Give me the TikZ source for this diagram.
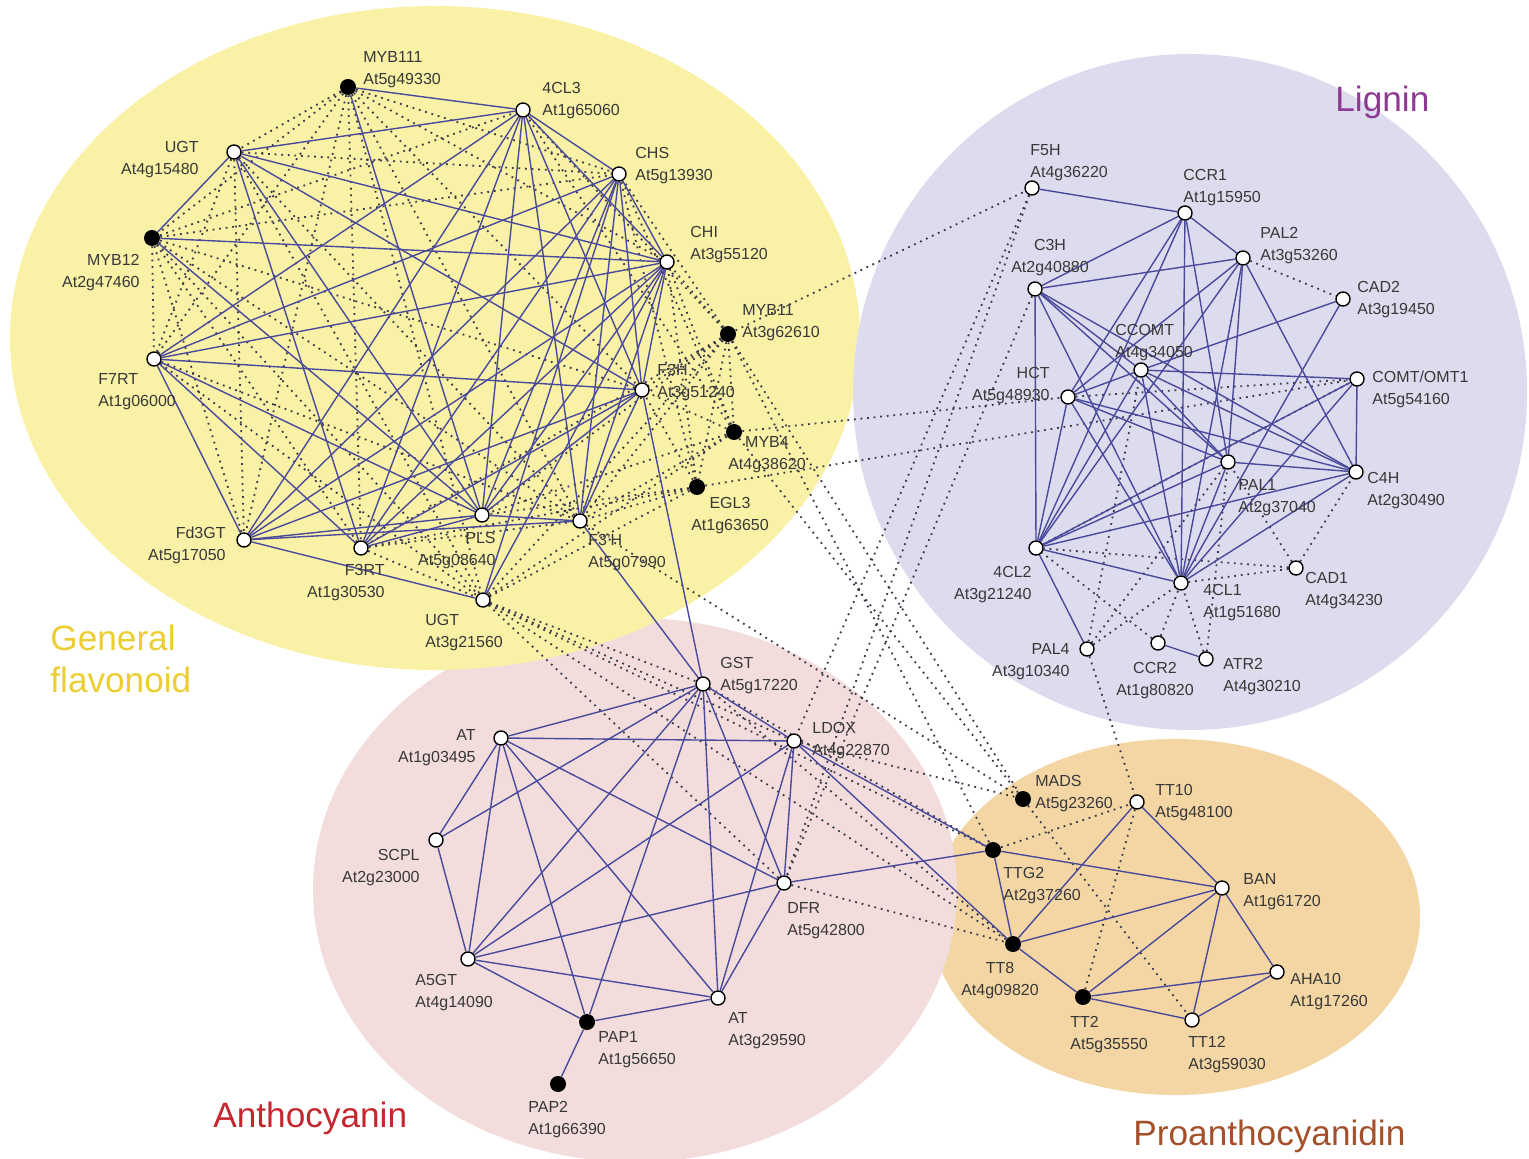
\documentclass[tikz,border=0pt]{standalone}
\usepackage{fontspec}
\setmainfont{Liberation Sans}
\definecolor{flavfill}{HTML}{F9F1A6}
\definecolor{ligfill}{HTML}{DDDCEE}
\definecolor{anthfill}{HTML}{F2DDDC}
\definecolor{proafill}{HTML}{F3D6A4}
\definecolor{edgeblue}{HTML}{4A4A9C}
\definecolor{dotgrey}{HTML}{3A3A48}
\definecolor{flavtext}{HTML}{ECCE32}
\definecolor{ligtext}{HTML}{8E3A92}
\definecolor{anthtext}{HTML}{C6262E}
\definecolor{proatext}{HTML}{A4502A}
\pgfdeclarelayer{bg}
\pgfsetlayers{bg,main}

\begin{document}
\begin{tikzpicture}[x=0.5pt,y=-0.5pt]
  \tikzstyle{gene}=[circle,draw,fill=white,line width=0.7pt,minimum size=7pt,inner sep=0pt]
  \tikzstyle{tf}=[circle,fill=black,minimum size=8pt,inner sep=0pt]
  \tikzstyle{lbl}=[font=\fontsize{8}{11}\selectfont,text=black!78,inner sep=0pt]
  \tikzstyle{group}=[font=\fontsize{17.6}{21}\selectfont,inner sep=0pt,anchor=north west,align=left]
  \tikzstyle{coexp}=[draw=edgeblue,line width=0.7pt]
  \tikzstyle{weak}=[draw=dotgrey,line width=0.9pt,dash pattern=on 0.9pt off 2.4pt]

  \useasboundingbox (0,0) rectangle (1529,1159);

  % genes
  \foreach \name/\x/\y in {c43/523/110, u1/234/152, chs/619/174, chi/667/262, f7/154/359,
      f3h/642/390, fd/244/540, pls/482/515, f3p/580/521, f3r/361/548, u2/483/600,
      f5h/1032/188, ccr1/1185/213, pal2/1243/258, c3h/1035/289, cad2/1343/299,
      ccomt/1141/370, comt/1357/379, hct/1068/397, pal1/1228/462, c4h/1356/472,
      cl42/1036/548, cl41/1181/583, cad1/1296/568, pal4/1087/649, ccr2/1158/643, atr2/1206/659,
      gst/703/684, at1/501/738, ldox/794/741, scpl/436/840, dfr/784/883, a5gt/468/959, at2/718/998,
      tt10/1137/802, ban/1222/888, aha10/1277/972, tt12/1192/1020}
    \node[gene] (\name) at (\x,\y) {};

  % transcription factors
  \foreach \name/\x/\y in {m111/348/87, m12/152/238, m11/728/334, m4/734/432, e3/697/487,
      pap1/587/1022, pap2/558/1084, mads/1023/799, ttg2/993/850, tt8/1013/944, tt2/1083/997}
    \node[tf] (\name) at (\x,\y) {};

  % labels
  \foreach \name/\x/\y/\txt in {m111/363/51/{MYB111\\At5g49330}, c43/542/82/{4CL3\\At1g65060},
      chs/635/147/{CHS\\At5g13930}, chi/690/226/{CHI\\At3g55120}, m11/742/304/{MYB11\\At3g62610},
      f7/98/373/{F7RT\\At1g06000}, f3h/657/364/{F3H\\At3g51240}, f3p/588/534/{F3'H\\At5g07990},
      u2/425/614/{UGT\\At3g21560}, f5h/1030/144/{F5H\\At4g36220}, ccr1/1183/169/{CCR1\\At1g15950},
      pal2/1260/227/{PAL2\\At3g53260}, cad2/1357/281/{CAD2\\At3g19450}, ccomt/1115/324/{CCOMT\\At4g34050},
      comt/1372/371/{COMT/OMT1\\At5g54160}, pal1/1238/479/{PAL1\\At2g37040}, c4h/1367/472/{C4H\\At2g30490},
      cl41/1203/584/{4CL1\\At1g51680}, cad1/1305/572/{CAD1\\At4g34230}, atr2/1223/658/{ATR2\\At4g30210},
      gst/720/657/{GST\\At5g17220}, ldox/812/722/{LDOX\\At4g22870}, dfr/787/902/{DFR\\At5g42800},
      a5gt/415/974/{A5GT\\At4g14090}, pap1/598/1031/{PAP1\\At1g56650}, at2/728/1012/{AT\\At3g29590},
      pap2/528/1101/{PAP2\\At1g66390}, mads/1035/775/{MADS\\At5g23260}, tt10/1155/784/{TT10\\At5g48100},
      ttg2/1003/867/{TTG2\\At2g37260}, ban/1243/873/{BAN\\At1g61720}, aha10/1290/973/{AHA10\\At1g17260},
      tt2/1070/1016/{TT2\\At5g35550}, tt12/1188/1036/{TT12\\At3g59030}}
    \node[lbl,anchor=north west,align=left] (\name-l) at (\x,\y) {\txt};

  \foreach \name/\x/\y/\txt in {u1/199/141/{UGT\\At4g15480}, m12/140/254/{MYB12\\At2g47460},
      fd/226/527/{Fd3GT\\At5g17050}, pls/496/532/{PLS\\At5g08640}, f3r/385/564/{F3RT\\At1g30530},
      hct/1050/367/{HCT\\At5g48930}, cl42/1032/566/{4CL2\\At3g21240}, pal4/1070/643/{PAL4\\At3g10340},
      at1/476/729/{AT\\At1g03495}, scpl/420/849/{SCPL\\At2g23000}}
    \node[lbl,anchor=north east,align=right] (\name-l) at (\x,\y) {\txt};

  \foreach \name/\x/\y/\txt in {m4/767/436/{MYB4\\At4g38620}, e3/730/497/{EGL3\\At1g63650},
      c3h/1050/239/{C3H\\At2g40880}, ccr2/1155/662/{CCR2\\At1g80820}, tt8/1000/962/{TT8\\At4g09820}}
    \node[lbl,anchor=north,align=center] (\name-l) at (\x,\y) {\txt};

  \node[group,text=flavtext] (flav-t) at (50,625) {General\\flavonoid};
  \node[group,text=ligtext] (lig-t) at (1335,86) {Lignin};
  \node[group,text=anthtext] (anth-t) at (213,1102) {Anthocyanin};
  \node[group,text=proatext] (proa-t) at (1133,1120) {Proanthocyanidin};

  \begin{pgfonlayer}{bg}
    \fill[proafill] (1175,917) ellipse [x radius=122.5pt, y radius=89pt];
    \fill[anthfill] (635,890) ellipse [x radius=161pt, y radius=136pt];
    \fill[flavfill] (435,338) ellipse [x radius=212.5pt, y radius=166pt];
    \fill[ligfill] (1190,392) ellipse [x radius=168.5pt, y radius=169pt];

    % weak links
    \foreach \a/\b in {m111/u1, m111/m12, m111/chs, m111/chi, m111/f7, m111/f3h, m111/f3r, m111/f3p, m111/fd, m111/u2,
        m12/c43, m12/chs, m12/f7, m12/f3h, m12/f3r, m12/fd, m12/f3p, m12/u2,
        m11/c43, m11/chs, m11/chi, m11/f3h, m11/pls, m11/f3p, m11/f3r, m11/u2, m11/m4, m11/e3,
        m4/chi, m4/chs, m4/f3h, m4/pls, m4/f3p, m4/u2, m4/c43,
        e3/chi, e3/chs, e3/f3h, e3/pls, e3/f3p, e3/u2, e3/f3r,
        u1/chs, u1/f7, u1/fd, u1/f3p, u1/u2, f7/f3p, f7/u2, f3r/f3p, f3r/u2,
        m11/f5h, m11/mads, m11/ttg2, f5h/ldox, f5h/dfr, c3h/dfr, m4/hct, e3/comt,
        f3p/mads, m4/mads, u2/gst, u2/ldox, u2/dfr, u2/ttg2, u2/tt8,
        gst/ttg2, gst/tt8, ldox/mads, dfr/tt8, pal4/tt10,
        pal2/cad2, hct/comt, cad1/cl42, cad1/cl41, cad1/pal1, cad1/c4h, ccr2/cl42, ccr2/cl41,
        atr2/cl41, atr2/pal1, pal4/cl41, pal4/pal1, pal4/ccomt, cl42/comt,
        mads/tt12, ttg2/tt10, tt10/tt2}
      \draw[weak] (\a) -- (\b);

    % coexpression links
    \foreach \a/\b in {m111/c43, m111/pls,
        u1/c43, u1/m12, u1/chi, u1/f3h, u1/pls, u1/f3r,
        m12/chi, m12/pls,
        c43/chs, c43/chi, c43/f7, c43/fd, c43/f3r, c43/pls, c43/f3p, c43/f3h,
        chs/chi, chs/f7, chs/fd, chs/f3r, chs/pls, chs/f3p, chs/u2, chs/f3h,
        chi/f7, chi/fd, chi/f3r, chi/pls, chi/f3p, chi/u2, chi/f3h,
        f3h/f7, f3h/fd, f3h/f3r, f3h/pls, f3h/f3p, f3h/gst,
        f7/fd, f7/f3r, f7/pls, fd/pls, fd/u2, fd/f3p, pls/f3p, pls/f3r, f3p/gst,
        f5h/ccr1, ccr1/pal2, ccr1/c3h, ccr1/hct, ccr1/cl42, ccr1/cl41, ccr1/pal1,
        pal2/c3h, pal2/hct, pal2/cl42, pal2/cl41, pal2/c4h, pal2/pal1,
        c3h/cl42, c3h/pal1, c3h/c4h, c3h/cl41, c3h/ccomt,
        cad2/ccomt, cad2/cl41,
        ccomt/hct, ccomt/comt, ccomt/c4h, ccomt/pal1, ccomt/cl42, ccomt/cl41,
        comt/c4h, comt/cl41, comt/cl42,
        hct/pal1, hct/c4h, hct/cl41, hct/cl42,
        pal1/c4h, pal1/cl42, pal1/cl41, c4h/cl42, c4h/cl41,
        cl42/cl41, cl42/pal4, ccr2/atr2,
        at1/gst, at1/ldox, at1/scpl, at1/a5gt, at1/pap1, at1/at2, at1/dfr,
        scpl/a5gt, scpl/gst,
        gst/ldox, gst/dfr, gst/at2, gst/a5gt, gst/pap1,
        ldox/a5gt, ldox/dfr, ldox/at2,
        dfr/a5gt, dfr/at2, a5gt/pap1, a5gt/at2, pap1/at2, pap1/pap2,
        ldox/ttg2, ldox/tt8, dfr/ttg2,
        ttg2/tt8, ttg2/ban, tt8/tt10, tt8/ban, tt8/tt2, tt10/ban,
        ban/tt2, ban/tt12, ban/aha10, tt2/aha10, tt2/tt12, tt12/aha10}
      \draw[coexp] (\a) -- (\b);
  \end{pgfonlayer}
\end{tikzpicture}
\end{document}
